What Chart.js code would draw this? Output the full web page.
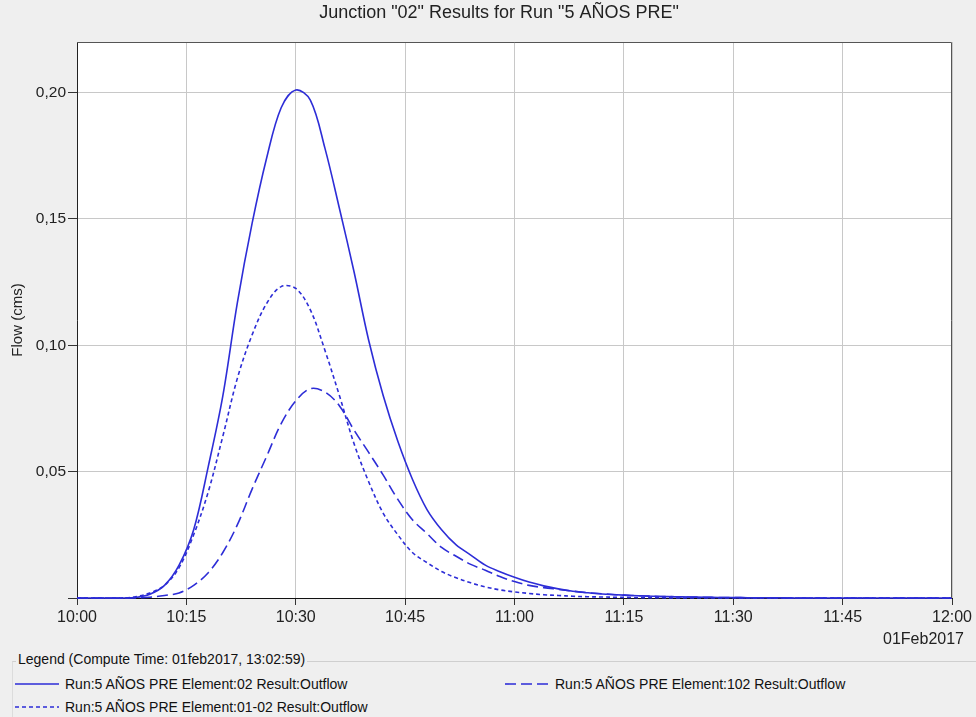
<!DOCTYPE html>
<html>
<head>
<meta charset="utf-8">
<script src="https://cdn.jsdelivr.net/npm/chart.js@4"></script>
<style>
  html, body { margin: 0; padding: 0; background: #efefef; }
  #wrap { position: relative; width: 976px; height: 717px; overflow: hidden; }
  #chart { position: absolute; left: 0; top: 0; }
  .legend { position: absolute; left: 0; top: 645px; width: 976px; height: 72px;
            font-family: "Liberation Sans", Arial, sans-serif; font-size: 14px; color: #111; }
  .legend .frame { position: absolute; left: 12px; top: 16px; right: 0; bottom: -2px;
                   border-top: 1px solid #cfcfcf; border-left: 1px solid #dcdcdc; }
  .legend .caption { position: absolute; left: 16px; top: 6px; padding: 0 2px; background: #efefef; line-height: 16px; }
  .legend .item { position: absolute; height: 16px; line-height: 16px; white-space: nowrap; }
  .legend svg { position: absolute; left: 0; top: 0; }
  .legend .item span { position: absolute; left: 50px; top: 0; }
</style>
</head>
<body>
<div id="wrap">
  <canvas id="chart" width="976" height="645"></canvas>
  <div class="legend" id="legend">
    <div class="frame"></div>
    <div class="caption">Legend (Compute Time: 01feb2017, 13:02:59)</div>
  </div>
</div>
<script>
'use strict';

const TITLE = 'Junction "02" Results for Run "5 AÑOS PRE"';
const DATE_LABEL = '01Feb2017';
const Y_TITLE = 'Flow (cms)';

// minutes after 10:00
const times = [
  0, 2, 4, 6, 8, 10, 12, 14, 16, 18, 20, 22, 24, 26, 28, 30, 32, 34, 36, 38,
  40, 42, 44, 46, 48, 50, 52, 54, 56, 58, 60, 62, 64, 66, 68, 70, 72, 74, 76, 78,
  80, 82, 84, 86, 88, 90, 92, 94, 96, 98, 100, 102, 104, 106, 108, 110, 112, 114, 116, 118, 120
];

// Run:5 AÑOS PRE Element:02 Result:Outflow
const outflow02 = [
  0, 0, 0, 0, 0.0002, 0.0015, 0.005, 0.013, 0.027, 0.052, 0.080, 0.117, 0.148, 0.174, 0.194, 0.2010, 0.197, 0.178, 0.154, 0.129,
  0.102, 0.080, 0.062, 0.047, 0.035, 0.027, 0.021, 0.017, 0.013, 0.0104, 0.0082, 0.0063, 0.0048, 0.0036, 0.0027, 0.0021, 0.0016, 0.0013, 0.0010, 0.0008,
  0.0006, 0.0005, 0.0004, 0.0003, 0.0002, 0.0002, 0.0001, 0.0001, 0.0001, 0, 0, 0, 0, 0, 0, 0, 0, 0, 0, 0, 0
];

// Run:5 AÑOS PRE Element:102 Result:Outflow
const outflow102 = [
  0, 0, 0, 0, 0, 0.0003, 0.001, 0.002, 0.005, 0.010, 0.018, 0.029, 0.043, 0.056, 0.069, 0.078, 0.0828, 0.0815, 0.076, 0.0664,
  0.0576, 0.0486, 0.039, 0.031, 0.0255, 0.020, 0.0165, 0.0133, 0.011, 0.0085, 0.0065, 0.005, 0.0041, 0.0034, 0.0027, 0.0021, 0.0017, 0.0013, 0.0010, 0.0008,
  0.0006, 0.0005, 0.0004, 0.0003, 0.0002, 0.0002, 0.0001, 0.0001, 0, 0, 0, 0, 0, 0, 0, 0, 0, 0, 0, 0, 0
];

// Run:5 AÑOS PRE Element:01-02 Result:Outflow
const outflow0102 = [
  0, 0, 0, 0, 0.0005, 0.002, 0.005, 0.012, 0.025, 0.042, 0.064, 0.087, 0.104, 0.1165, 0.1232, 0.1225, 0.114, 0.098, 0.080, 0.061,
  0.046, 0.0335, 0.025, 0.018, 0.014, 0.0105, 0.008, 0.006, 0.0044, 0.0032, 0.0024, 0.0018, 0.0013, 0.0010, 0.0007, 0.0005, 0.0004, 0.0003, 0.0002, 0.0001,
  0.0001, 0, 0, 0, 0, 0, 0, 0, 0, 0, 0, 0, 0, 0, 0, 0, 0, 0, 0, 0, 0
];

const xTicks = [0, 15, 30, 45, 60, 75, 90, 105, 120];
const xTickLabels = ['10:00', '10:15', '10:30', '10:45', '11:00', '11:15', '11:30', '11:45', '12:00'];
const yTicks = [0, 0.05, 0.10, 0.15, 0.20];

const BLUE = 'rgb(45, 45, 215)';
const FONT = '"Liberation Sans", Arial, sans-serif';

const toPoints = (vals) => vals.map((v, i) => ({ x: times[i], y: v }));

const datasets = [
  { label: 'Run:5 AÑOS PRE Element:02 Result:Outflow', data: toPoints(outflow02), borderDash: [] },
  { label: 'Run:5 AÑOS PRE Element:102 Result:Outflow', data: toPoints(outflow102), borderDash: [11, 5] },
  { label: 'Run:5 AÑOS PRE Element:01-02 Result:Outflow', data: toPoints(outflow0102), borderDash: [4, 3] },
].map(d => Object.assign(d, {
  borderColor: BLUE,
  borderWidth: 1.6,
  pointRadius: 0,
  tension: 0.35,
  clip: false,
}));

// white plot area, frame, title and date text
const framePlugin = {
  id: 'frame',
  beforeDraw(chart) {
    const { ctx, chartArea: a } = chart;
    ctx.save();
    ctx.fillStyle = '#efefef';
    ctx.fillRect(0, 0, chart.width, chart.height);
    ctx.fillStyle = '#ffffff';
    ctx.fillRect(a.left, a.top, a.right - a.left, a.bottom - a.top);
    ctx.restore();
  },
  afterDraw(chart) {
    const { ctx, chartArea: a } = chart;
    ctx.save();
    ctx.strokeStyle = '#555';
    ctx.lineWidth = 1;
    ctx.beginPath();
    ctx.moveTo(a.left, a.top + 0.5);
    ctx.lineTo(a.right - 0.5, a.top + 0.5);
    ctx.lineTo(a.right - 0.5, a.bottom);
    ctx.stroke();

    ctx.fillStyle = '#222';
    ctx.font = '18px ' + FONT;
    ctx.textAlign = 'center';
    ctx.textBaseline = 'middle';
    ctx.fillText(TITLE, 499, 13);

    ctx.font = '16px ' + FONT;
    ctx.textAlign = 'right';
    ctx.fillText(DATE_LABEL, 964, 640);
    ctx.restore();
  }
};

const ctx = document.getElementById('chart').getContext('2d');
const chart = new Chart(ctx, {
  type: 'line',
  data: { datasets },
  options: {
    responsive: false,
    animation: false,
    layout: { padding: { top: 42, right: 24, left: 0, bottom: 0 } },
    plugins: {
      legend: { display: false },
      title: { display: false },
      tooltip: { enabled: false },
    },
    scales: {
      x: {
        type: 'linear',
        min: 0,
        max: 120,
        afterBuildTicks: (s) => { s.ticks = xTicks.map(v => ({ value: v })); },
        afterFit: (s) => { s.height = 47; },
        ticks: {
          color: '#222',
          padding: 3,
          maxRotation: 0,
          font: { family: FONT, size: 16 },
          callback: (v) => xTickLabels[xTicks.indexOf(v)],
        },
        grid: { color: '#c8c8c8', tickColor: '#333', tickLength: 7 },
        border: { color: '#111', width: 1 },
      },
      y: {
        min: 0,
        max: 0.22,
        afterBuildTicks: (s) => { s.ticks = yTicks.map(v => ({ value: v })); },
        afterFit: (s) => { s.width = 77; },
        ticks: {
          color: '#222',
          padding: 2,
          font: { family: FONT, size: 15.5 },
          callback: (v) => v === 0 ? '' : v.toFixed(2).replace('.', ','),
        },
        grid: { color: '#c8c8c8', tickColor: '#333', tickLength: 9 },
        border: { color: '#222', width: 1 },
        title: {
          display: true,
          text: Y_TITLE,
          color: '#222',
          font: { family: FONT, size: 15 },
          padding: { top: 9, bottom: 0 },
        },
      },
    },
  },
  plugins: [framePlugin],
});

// HTML legend built from the datasets
const legendPos = [
  { left: 15, top: 31 },
  { left: 505, top: 31 },
  { left: 15, top: 54 },
];
const legendEl = document.getElementById('legend');
chart.data.datasets.forEach((d, i) => {
  const item = document.createElement('div');
  item.className = 'item';
  item.style.left = legendPos[i].left + 'px';
  item.style.top = legendPos[i].top + 'px';
  const dash = d.borderDash.length ? d.borderDash.join(' ') : 'none';
  item.innerHTML =
    '<svg width="44" height="16"><line x1="0" y1="8" x2="44" y2="8" stroke="' + BLUE +
    '" stroke-width="1.6" stroke-dasharray="' + dash + '"/></svg>';
  const span = document.createElement('span');
  span.textContent = d.label;
  item.appendChild(span);
  legendEl.appendChild(item);
});
</script>
</body>
</html>
